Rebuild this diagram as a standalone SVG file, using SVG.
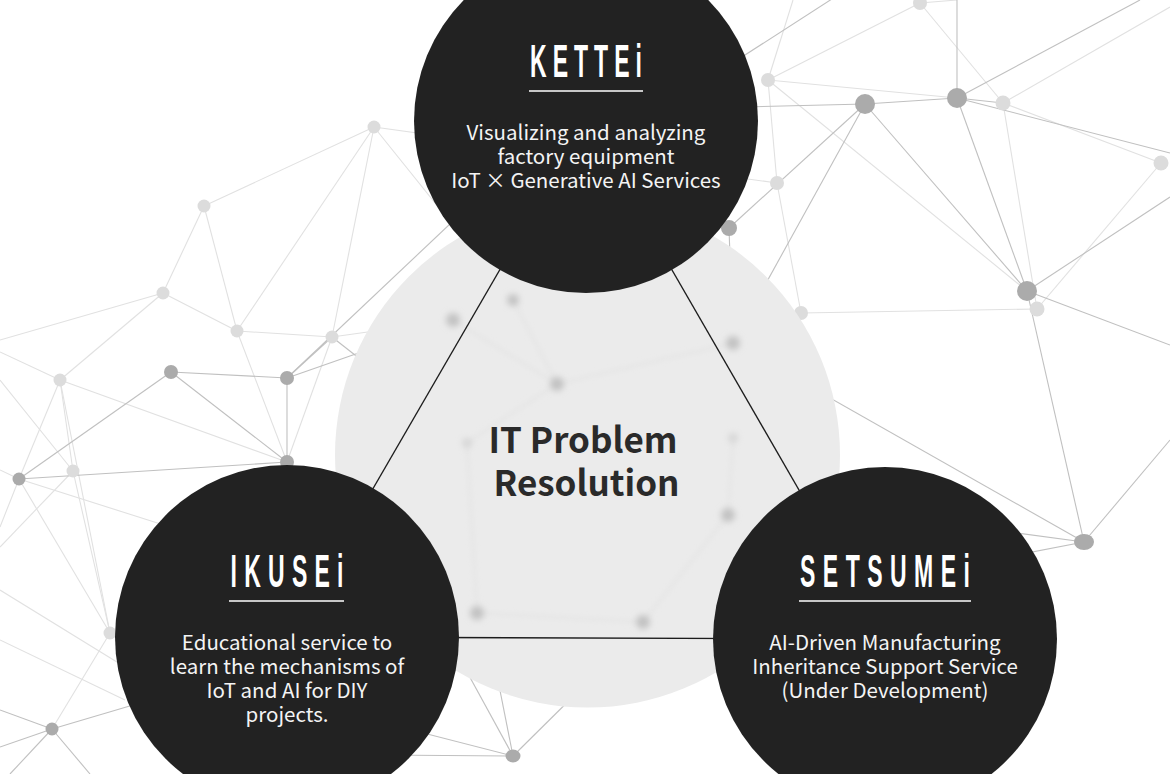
<svg xmlns="http://www.w3.org/2000/svg" width="1170" height="774" viewBox="0 0 1170 774">
<defs>
<style>
.el{stroke:#e1e1e1;stroke-width:1.1;fill:none}
.ed{stroke:#c0c0c0;stroke-width:1.1;fill:none}
.nl{fill:#dcdcdc}
.nd{fill:#ababab}
.tri{stroke:#1c1c1c;stroke-width:1.3;fill:none}
.dark{fill:#222222}
.title{font-family:"Liberation Sans","Arial",sans-serif;font-size:46px;font-weight:bold;fill:#ffffff;text-anchor:middle}
.body{font-family:"Noto Sans CJK JP","Source Sans Pro","Noto Sans",sans-serif;font-size:20.5px;fill:#f4f4f4;text-anchor:middle}
.center{font-family:"Noto Sans CJK JP","Source Sans Pro","Noto Sans",sans-serif;font-size:35px;font-weight:bold;fill:#2a2a2a;text-anchor:middle}
.rule{stroke:#ffffff;stroke-width:1.5}
</style>
<filter id="blur" x="-1" y="-1" width="3" height="3"><feGaussianBlur stdDeviation="3"/></filter>
<filter id="blur2" x="-0.2" y="-0.2" width="1.4" height="1.4"><feGaussianBlur stdDeviation="2.5"/></filter>
<clipPath id="glass"><circle cx="587.5" cy="455" r="252.5"/></clipPath>
</defs>
<rect width="1170" height="774" fill="#ffffff"/>

<g id="background-network">
<g id="network-lines">
<line class="el" x1="374" y1="127" x2="777" y2="183"/>
<line class="el" x1="374" y1="127" x2="513" y2="300"/>
<line class="el" x1="374" y1="127" x2="204" y2="206"/>
<line class="el" x1="374" y1="127" x2="237" y2="331"/>
<line class="el" x1="374" y1="127" x2="332" y2="337"/>
<line class="el" x1="204" y1="206" x2="163" y2="293"/>
<line class="el" x1="204" y1="206" x2="237" y2="331"/>
<line class="el" x1="163" y1="293" x2="237" y2="331"/>
<line class="el" x1="163" y1="293" x2="0" y2="340"/>
<line class="el" x1="163" y1="293" x2="60" y2="380"/>
<line class="el" x1="237" y1="331" x2="332" y2="337"/>
<line class="el" x1="237" y1="331" x2="287" y2="462"/>
<line class="el" x1="332" y1="337" x2="453" y2="320"/>
<line class="ed" x1="332" y1="337" x2="467" y2="443"/>
<line class="el" x1="60" y1="380" x2="0" y2="352"/>
<line class="el" x1="60" y1="380" x2="73" y2="471"/>
<line class="el" x1="60" y1="380" x2="287" y2="462"/>
<line class="el" x1="60" y1="380" x2="19" y2="479"/>
<line class="el" x1="60" y1="380" x2="110" y2="633"/>
<line class="el" x1="73" y1="471" x2="0" y2="547"/>
<line class="el" x1="73" y1="471" x2="110" y2="633"/>
<line class="el" x1="0" y1="380" x2="73" y2="471"/>
<line class="ed" x1="332" y1="337" x2="287" y2="378"/>
<line class="el" x1="332" y1="337" x2="287" y2="462"/>
<line class="ed" x1="287" y1="378" x2="505" y2="172"/>
<line class="ed" x1="287" y1="378" x2="453" y2="320"/>
<line class="ed" x1="171" y1="372" x2="287" y2="378"/>
<line class="ed" x1="171" y1="372" x2="19" y2="479"/>
<line class="ed" x1="171" y1="372" x2="287" y2="462"/>
<line class="ed" x1="287" y1="378" x2="287" y2="462"/>
<line class="ed" x1="19" y1="479" x2="287" y2="462"/>
<line class="el" x1="19" y1="479" x2="110" y2="633"/>
<line class="el" x1="19" y1="479" x2="170" y2="527"/>
<line class="el" x1="19" y1="479" x2="0" y2="470"/>
<line class="el" x1="19" y1="479" x2="0" y2="527"/>
<line class="el" x1="0" y1="590" x2="125" y2="667"/>
<line class="el" x1="0" y1="640" x2="125" y2="700"/>
<line class="el" x1="110" y1="633" x2="52" y2="729"/>
<line class="ed" x1="52" y1="729" x2="0" y2="710"/>
<line class="ed" x1="52" y1="729" x2="0" y2="747"/>
<line class="ed" x1="52" y1="729" x2="10" y2="774"/>
<line class="ed" x1="52" y1="729" x2="90" y2="774"/>
<line class="ed" x1="52" y1="729" x2="150" y2="700"/>
<line class="ed" x1="513" y1="756" x2="380" y2="755"/>
<line class="ed" x1="513" y1="756" x2="400" y2="727"/>
<line class="ed" x1="513" y1="756" x2="455" y2="650"/>
<line class="ed" x1="513" y1="756" x2="490" y2="640"/>
<line class="ed" x1="513" y1="756" x2="610" y2="660"/>
<line class="el" x1="768" y1="80" x2="793" y2="0"/>
<line class="el" x1="768" y1="80" x2="920" y2="3"/>
<line class="el" x1="768" y1="80" x2="957" y2="98"/>
<line class="el" x1="768" y1="80" x2="1027" y2="291"/>
<line class="el" x1="768" y1="80" x2="777" y2="183"/>
<line class="ed" x1="700" y1="84" x2="835" y2="-3"/>
<line class="el" x1="920" y1="3" x2="1003" y2="103"/>
<line class="el" x1="920" y1="3" x2="957" y2="0"/>
<line class="el" x1="1003" y1="103" x2="1170" y2="7"/>
<line class="el" x1="1003" y1="103" x2="1161" y2="163"/>
<line class="el" x1="1003" y1="103" x2="1037" y2="309"/>
<line class="el" x1="1161" y1="163" x2="1037" y2="309"/>
<line class="el" x1="1037" y1="309" x2="801" y2="313"/>
<line class="el" x1="777" y1="183" x2="801" y2="313"/>
<line class="ed" x1="865" y1="104" x2="700" y2="108"/>
<line class="ed" x1="865" y1="104" x2="957" y2="98"/>
<line class="ed" x1="865" y1="104" x2="1027" y2="291"/>
<line class="ed" x1="865" y1="104" x2="729" y2="228"/>
<line class="ed" x1="865" y1="104" x2="733" y2="343"/>
<line class="ed" x1="957" y1="98" x2="957" y2="0"/>
<line class="ed" x1="957" y1="98" x2="1140" y2="0"/>
<line class="ed" x1="957" y1="98" x2="1170" y2="153"/>
<line class="ed" x1="957" y1="98" x2="1003" y2="103"/>
<line class="ed" x1="957" y1="98" x2="1027" y2="291"/>
<line class="ed" x1="1027" y1="291" x2="1170" y2="197"/>
<line class="ed" x1="1027" y1="291" x2="1170" y2="345"/>
<line class="ed" x1="1027" y1="291" x2="1084" y2="542"/>
<line class="ed" x1="1084" y1="542" x2="733" y2="343"/>
<line class="ed" x1="1084" y1="542" x2="1170" y2="440"/>
<line class="ed" x1="1084" y1="542" x2="980" y2="528"/>
<line class="ed" x1="1084" y1="542" x2="980" y2="562"/>
<line class="ed" x1="729" y1="228" x2="733" y2="343"/>
</g>
<g id="network-dots">
<circle class="nl" cx="374" cy="127" r="6.5"/>
<circle class="nl" cx="204" cy="206" r="6.5"/>
<circle class="nl" cx="163" cy="293" r="6.5"/>
<circle class="nl" cx="237" cy="331" r="6.5"/>
<circle class="nl" cx="332" cy="337" r="6.5"/>
<circle class="nl" cx="60" cy="380" r="6.5"/>
<circle class="nl" cx="73" cy="471" r="6.5"/>
<circle class="nl" cx="110" cy="633" r="6.5"/>
<circle class="nl" cx="768" cy="80" r="7"/>
<circle class="nl" cx="920" cy="3" r="7"/>
<circle class="nl" cx="1003" cy="103" r="7.5"/>
<circle class="nl" cx="777" cy="183" r="7"/>
<circle class="nl" cx="1161" cy="163" r="7.5"/>
<circle class="nl" cx="1037" cy="309" r="7.5"/>
<circle class="nl" cx="801" cy="313" r="7"/>
<circle class="nd" cx="171" cy="372" r="7"/>
<circle class="nd" cx="287" cy="378" r="7"/>
<circle class="nd" cx="19" cy="479" r="6.5"/>
<circle class="nd" cx="287" cy="462" r="7"/>
<circle class="nd" cx="52" cy="729" r="6.5"/>
<ellipse class="nd" cx="513" cy="756" rx="7.5" ry="6.5"/>
<circle class="nd" cx="729" cy="228" r="8"/>
<circle class="nd" cx="865" cy="104" r="10"/>
<circle class="nd" cx="957" cy="98" r="10"/>
<circle class="nd" cx="1027" cy="291" r="10"/>
<ellipse class="nd" cx="1084" cy="542" rx="10" ry="8"/>
</g>
</g>

<g id="center-glass">
<circle cx="587.5" cy="455" r="252.5" fill="#ebebeb"/>
<g clip-path="url(#glass)">
<g filter="url(#blur2)" stroke="#e4e4e4" stroke-width="2.5" fill="none">
<line x1="453" y1="320" x2="557" y2="384"/>
<line x1="513" y1="300" x2="557" y2="384"/>
<line x1="557" y1="384" x2="733" y2="343"/>
<line x1="467" y1="443" x2="477" y2="613"/>
<line x1="733" y1="438" x2="728" y2="515"/>
<line x1="728" y1="515" x2="643" y2="622"/>
<line x1="477" y1="613" x2="643" y2="622"/>
<line x1="557" y1="384" x2="467" y2="443"/>
</g>
<g filter="url(#blur)" fill="#c2c2c2">
<circle cx="453" cy="320" r="7"/>
<circle cx="513" cy="300" r="6"/>
<circle cx="557" cy="384" r="7"/>
<circle cx="733" cy="343" r="7"/>
<circle cx="467" cy="443" r="5" fill="#d6d6d6"/>
<circle cx="733" cy="438" r="5" fill="#d6d6d6"/>
<circle cx="728" cy="515" r="7"/>
<circle cx="477" cy="613" r="7"/>
<circle cx="643" cy="622" r="7"/>
</g>
</g>
</g>

<g id="connectors">
<line class="tri" x1="586" y1="121" x2="287" y2="637"/>
<line class="tri" x1="586" y1="121" x2="885" y2="639"/>
<line class="tri" x1="287" y1="637" x2="885" y2="639"/>
</g>

<g id="center-label">
<text class="center" x="583" y="453">IT Problem</text>
<text class="center" x="586.5" y="496">Resolution</text>
</g>

<g id="node-kettei">
<circle class="dark" cx="586" cy="121" r="172"/>
<text class="title" transform="translate(586,77) scale(0.5,1)" textLength="224" lengthAdjust="spacing">KETTEi</text>
<line class="rule" x1="529" y1="91" x2="643" y2="91"/>
<text class="body" x="586" y="140">Visualizing and analyzing</text>
<text class="body" x="586" y="164">factory equipment</text>
<text class="body" x="586" y="188">IoT × Generative AI Services</text>
</g>

<g id="node-ikusei">
<circle class="dark" cx="287" cy="637" r="172"/>
<text class="title" transform="translate(287,587) scale(0.5,1)" textLength="226" lengthAdjust="spacing">IKUSEi</text>
<line class="rule" x1="229" y1="601" x2="344" y2="601"/>
<text class="body" x="287" y="650">Educational service to</text>
<text class="body" x="287" y="674">learn the mechanisms of</text>
<text class="body" x="287" y="698">IoT and AI for DIY</text>
<text class="body" x="287" y="722">projects.</text>
</g>

<g id="node-setsumei">
<circle class="dark" cx="885" cy="639" r="172"/>
<text class="title" transform="translate(885,587) scale(0.5,1)" textLength="340" lengthAdjust="spacing">SETSUMEi</text>
<line class="rule" x1="799" y1="601" x2="971" y2="601"/>
<text class="body" x="885" y="650">AI-Driven Manufacturing</text>
<text class="body" x="885" y="674">Inheritance Support Service</text>
<text class="body" x="885" y="698">(Under Development)</text>
</g>
</svg>
